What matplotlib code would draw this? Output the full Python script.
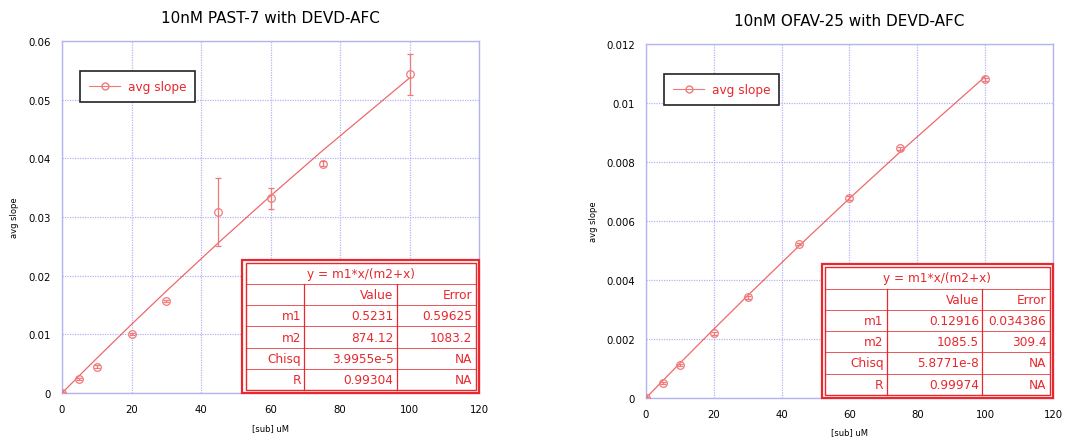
import numpy as np
import matplotlib
matplotlib.use("Agg")
import matplotlib.pyplot as plt
from matplotlib.patches import Rectangle

# data
x_sub = np.array([0, 5, 10, 20, 30, 45, 60, 75, 100])

past_y = np.array([0.0, 0.0024, 0.0045, 0.0101, 0.0157, 0.0308, 0.0332, 0.0391, 0.0543])
past_err = np.array([0.0001, 0.0002, 0.0002, 0.0002, 0.0002, 0.0058, 0.0018, 0.0004, 0.0035])
past_fit = {"m1": (0.5231, 0.59625), "m2": (874.12, 1083.2)}
past_rows = [["m1", "0.5231", "0.59625"],
             ["m2", "874.12", "1083.2"],
             ["Chisq", "3.9955e-5", "NA"],
             ["R", "0.99304", "NA"]]

ofav_y = np.array([0.0, 0.00051, 0.00112, 0.00219, 0.00341, 0.00522, 0.00678, 0.00846, 0.01081])
ofav_err = np.array([0.00003, 0.00004, 0.00004, 0.00005, 0.00005, 0.00005, 0.00008, 0.00006, 0.00005])
ofav_fit = {"m1": (0.12916, 0.034386), "m2": (1085.5, 309.4)}
ofav_rows = [["m1", "0.12916", "0.034386"],
             ["m2", "1085.5", "309.4"],
             ["Chisq", "5.8771e-8", "NA"],
             ["R", "0.99974", "NA"]]

fit_title = "y = m1*x/(m2+x)"
header = ["", "Value", "Error"]

RED = "#e8282d"
PINK = "#f07a7a"
BLUE = "#b4b4f2"

fig = plt.figure(figsize=(10.77, 4.39), dpi=100)


def draw_table(ax, x0, y1, cols, rows):
    # table sits in the lower right corner of the axes
    x1, y0 = 1.0, 0.0
    tr = ax.transAxes
    ax.add_patch(Rectangle((x0, y0), x1 - x0, y1 - y0, transform=tr, facecolor="white",
                           edgecolor=RED, lw=1.6, zorder=5, clip_on=False))
    dx, dy = 0.008, 0.009
    ix0, ix1, iy0, iy1 = x0 + dx, x1 - dx, y0 + dy, y1 - dy
    ax.add_patch(Rectangle((ix0, iy0), ix1 - ix0, iy1 - iy0, transform=tr, facecolor="none",
                           edgecolor=RED, lw=1.0, zorder=6, clip_on=False))
    n = len(rows) + 2
    rh = (iy1 - iy0) / n
    w = ix1 - ix0
    cx = [ix0 + c * w for c in cols]
    for i in range(1, n):
        yy = iy1 - i * rh
        ax.plot([ix0, ix1], [yy, yy], transform=tr, color=RED, lw=0.7, alpha=0.8, zorder=6, clip_on=False)
    for c in cx:
        ax.plot([c, c], [iy0, iy1 - rh], transform=tr, color=RED, lw=0.9, zorder=6, clip_on=False)
    ax.text((ix0 + ix1) / 2, iy1 - rh / 2, fit_title, transform=tr, ha="center", va="center",
            color=RED, fontsize=8.7, zorder=7)
    rights = [cx[0] - 0.008, cx[1] - 0.008, ix1 - 0.008]
    for r, row in enumerate([header] + rows):
        yy = iy1 - (r + 1.5) * rh
        for c, txt in enumerate(row):
            ax.text(rights[c], yy, txt, transform=tr, ha="right", va="center",
                    color=RED, fontsize=8.7, zorder=7)


def panel(rect, title, y, err, fit, rows, ymax, yticks, ytl, cols, leg_anchor, ylab_x, xlab_y):
    ax = fig.add_axes(rect)
    m1, m2 = fit["m1"][0], fit["m2"][0]
    ax.plot(x_sub, m1 * x_sub / (m2 + x_sub), color=RED, lw=0.9, alpha=0.7, zorder=3)
    ax.errorbar(x_sub, y, yerr=err, fmt="o", mfc="none", mec=PINK, ms=5.5, mew=0.9,
                ecolor=PINK, elinewidth=0.9, capsize=2.5, zorder=4)
    ax.plot([], [], color=PINK, lw=0.8, marker="o", mfc="none", mec=PINK, ms=5, label="avg slope")
    ax.set_xlim(0, 120)
    ax.set_ylim(0, ymax)
    ax.set_xticks([0, 20, 40, 60, 80, 100, 120])
    ax.set_yticks(yticks)
    ax.set_yticklabels(ytl)
    ax.tick_params(length=0, labelsize=7.3, pad=8)
    ax.grid(True, color=BLUE, ls=(0, (1, 1)), lw=0.9)
    for s in ax.spines.values():
        s.set_color(BLUE)
        s.set_linewidth(1.0)
    ax.set_title(title, fontsize=11, pad=14)
    ax.set_xlabel("[sub] uM", fontsize=6, va="center")
    ax.set_ylabel("avg slope", fontsize=6, va="center")
    ax.yaxis.set_label_coords(ylab_x, 0.5)
    ax.xaxis.set_label_coords(0.5, xlab_y)
    leg = ax.legend(loc="upper left", bbox_to_anchor=leg_anchor, borderaxespad=0, fancybox=False,
                    edgecolor="#222222", labelcolor=RED, fontsize=8.7, handlelength=2.6,
                    handletextpad=0.6, borderpad=0.75, framealpha=1)
    leg.get_frame().set_linewidth(1.2)
    draw_table(ax, 0.432, 0.378, cols, rows)
    return ax


panel([0.0576, 0.1025, 0.3872, 0.8018], "10nM PAST-7 with DEVD-AFC", past_y, past_err,
      past_fit, past_rows, 0.06, [0, 0.01, 0.02, 0.03, 0.04, 0.05, 0.06],
      ["0", "0.01", "0.02", "0.03", "0.04", "0.05", "0.06"], [0.255, 0.658], (0.043, 0.915),
      -0.113, -0.099)

panel([0.5998, 0.0911, 0.3779, 0.8064], "10nM OFAV-25 with DEVD-AFC", ofav_y, ofav_err,
      ofav_fit, ofav_rows, 0.012, [0, 0.002, 0.004, 0.006, 0.008, 0.01, 0.012],
      ["0", "0.002", "0.004", "0.006", "0.008", "0.01", "0.012"], [0.275, 0.70], (0.044, 0.915),
      -0.130, -0.096)

fig.savefig("out.png", dpi=100)
